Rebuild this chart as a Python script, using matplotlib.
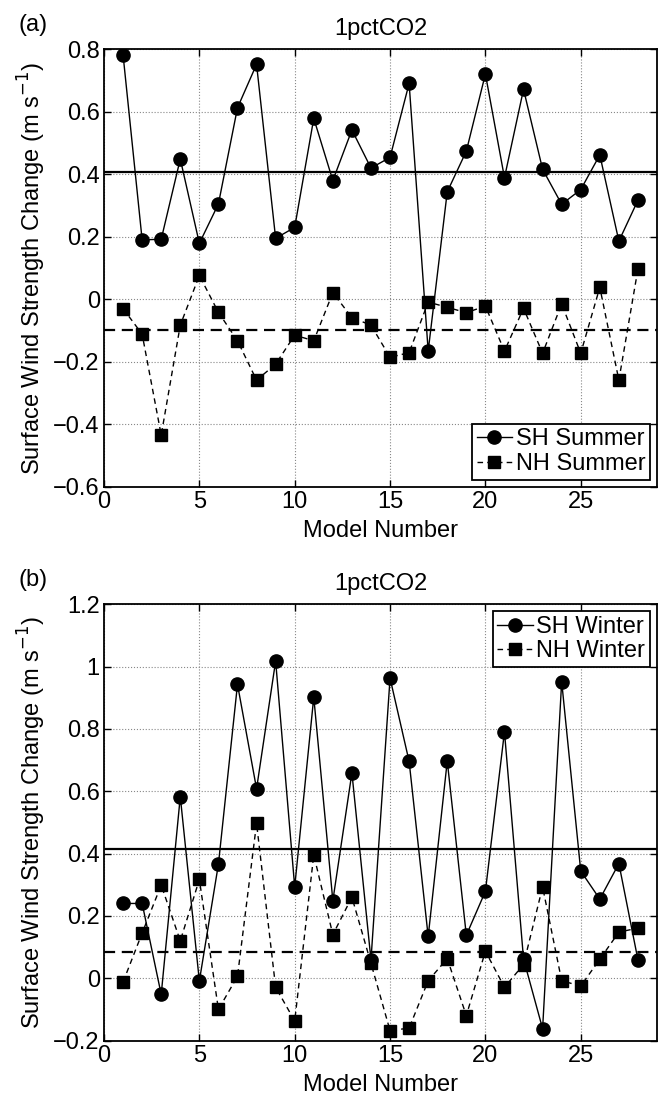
import numpy as np
import matplotlib
matplotlib.use("Agg")
import matplotlib.pyplot as plt

plt.rcParams['font.family'] = ['Liberation Sans', 'DejaVu Sans']

# model numbers
models = np.arange(1, 29)

# panel (a): summer
sh_summer = [0.782, 0.190, 0.192, 0.449, 0.179, 0.305, 0.613, 0.752, 0.195, 0.230,
             0.579, 0.380, 0.542, 0.420, 0.454, 0.691, -0.166, 0.344, 0.474, 0.721,
             0.389, 0.672, 0.416, 0.304, 0.351, 0.462, 0.186, 0.317]
nh_summer = [-0.030, -0.112, -0.435, -0.083, 0.076, -0.042, -0.133, -0.259, -0.208, -0.115,
             -0.133, 0.021, -0.059, -0.083, -0.186, -0.171, -0.009, -0.026, -0.043, -0.022,
             -0.166, -0.029, -0.173, -0.015, -0.173, 0.038, -0.259, 0.097]
sh_summer_mean = 0.408
nh_summer_mean = -0.099

# panel (b): winter
sh_winter = [0.240, 0.240, -0.052, 0.583, -0.009, 0.366, 0.943, 0.608, 1.018, 0.293,
             0.902, 0.249, 0.659, 0.059, 0.963, 0.696, 0.134, 0.697, 0.138, 0.279,
             0.791, 0.062, -0.162, 0.952, 0.344, 0.254, 0.368, 0.059]
nh_winter = [-0.012, 0.145, 0.299, 0.120, 0.317, -0.100, 0.006, 0.497, -0.029, -0.137,
             0.396, 0.140, 0.260, 0.048, -0.168, -0.160, -0.008, 0.063, -0.120, 0.087,
             -0.029, 0.044, 0.293, -0.008, -0.025, 0.061, 0.148, 0.161]
sh_winter_mean = 0.416
nh_winter_mean = 0.083

fig = plt.figure(figsize=(6.65, 11.09), dpi=100)
ax1 = fig.add_axes([0.1564, 0.5612, 0.8316, 0.3943])
ax2 = fig.add_axes([0.1564, 0.0617, 0.8316, 0.3934])

FS = 17


def draw_panel(ax, sh, nh, sh_mean, nh_mean, season, ylim, yticks, legend_loc, letter):
    ax.plot(models, sh, '-', color='black', lw=1.0, marker='o', markersize=9.5,
            label='SH ' + season)
    ax.plot(models, nh, '--', color='black', lw=1.0, marker='s', markersize=8,
            dashes=(4, 3), label='NH ' + season)
    ax.axhline(sh_mean, color='black', lw=1.6)
    ax.axhline(nh_mean, color='black', lw=1.6, ls='--', dashes=(5, 3))
    ax.set_xlim(0, 29)
    ax.set_ylim(*ylim)
    ax.set_xticks([0, 5, 10, 15, 20, 25])
    ax.set_yticks(yticks)
    ax.set_yticklabels([('%g' % t).replace('-', '\u2212') for t in yticks])
    ax.grid(True, ls=':', color='#888888', lw=0.8)
    ax.set_axisbelow(True)
    ax.tick_params(direction='in', top=True, right=True, length=5, width=1.0,
                   labelsize=FS, pad=3)
    for s in ax.spines.values():
        s.set_linewidth(1.3)
    ax.set_xlabel('Model Number', fontsize=FS, labelpad=5)
    ax.set_ylabel('Surface Wind Strength Change (m s$^{-1}$)', fontsize=FS, labelpad=4)
    ax.set_title('1pctCO2', fontsize=FS, pad=10)
    ax.text(-0.155, 1.03, letter, transform=ax.transAxes, fontsize=FS,
            ha='left', va='bottom')
    leg = ax.legend(loc=legend_loc, fontsize=FS, handlelength=1.5, handletextpad=0.15,
                    borderpad=0.2, labelspacing=0.1, borderaxespad=0.3,
                    fancybox=False, framealpha=1)
    leg.get_frame().set_edgecolor('black')
    leg.get_frame().set_linewidth(1.3)


draw_panel(ax1, sh_summer, nh_summer, sh_summer_mean, nh_summer_mean, 'Summer',
           (-0.6, 0.8), [-0.6, -0.4, -0.2, 0, 0.2, 0.4, 0.6, 0.8], 'lower right', '(a)')
draw_panel(ax2, sh_winter, nh_winter, sh_winter_mean, nh_winter_mean, 'Winter',
           (-0.2, 1.2), [-0.2, 0, 0.2, 0.4, 0.6, 0.8, 1, 1.2], 'upper right', '(b)')

fig.savefig('out.png', dpi=100)
